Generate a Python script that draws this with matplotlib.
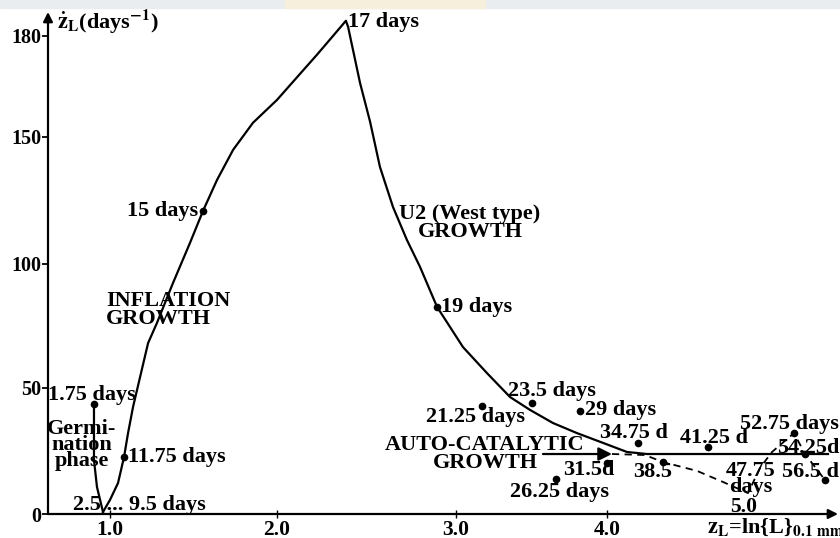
import numpy as np
import matplotlib.pyplot as plt
from matplotlib.patches import Rectangle

# the original figure is hand drawn, its axes are not evenly spaced
x_knots = [1.0, 2.0, 3.0, 4.0, 5.0]
x_knot_px = [110, 277, 456, 607, 744]
y_knots = [0, 50, 100, 150, 180]
y_knot_px = [0, 126, 250, 377, 478]

# germination phase (1.75 days -> 2.5 days)
germ_x = [0.904, 0.904, 0.922, 0.958]
germ_y = [43.7, 21.4, 10.7, 0.8]

# inflation growth up to 17 days, then U2 growth down to the auto-catalytic level
growth_x = [0.958, 1.000, 1.048, 1.084, 1.108, 1.138, 1.180, 1.228, 1.281, 1.377,
            1.479, 1.557, 1.641, 1.737, 1.856, 2.000, 2.128, 2.223, 2.313, 2.385,
            2.397, 2.464, 2.520, 2.575, 2.648, 2.726, 2.799, 2.894, 3.046, 3.205,
            3.358, 3.490, 3.642, 3.801, 3.974, 4.146, 4.292, 5.613]
growth_y = [0.8, 5.6, 12.3, 22.6, 32.1, 42.5, 54.4, 68.1, 76.2, 92.3,
            108.3, 120.9, 133.1, 144.9, 154.2, 161.0, 168.7, 174.4, 180.0, 184.5,
            182.7, 166.0, 154.5, 138.2, 122.4, 109.4, 98.8, 82.7, 66.5, 56.0,
            46.4, 41.3, 36.1, 32.1, 28.2, 24.6, 23.8, 23.8]

# auto-catalytic arrow
auto_x = [3.576, 4.036]
auto_y = [23.8, 23.8]

# dashed path through the late measurements
dash_x = [4.036, 4.277, 4.409, 4.657, 4.847, 5.029, 5.117, 5.204, 5.365, 5.445, 5.591]
dash_y = [23.8, 23.4, 20.6, 17.1, 12.7, 8.3, 18.3, 24.6, 32.1, 23.8, 13.5]

# measured points
dot_names = ['1.75 days', '11.75 days', '15 days', '19 days', '21.25 days', '23.5 days',
             '26.25 days', '29 days', '31.5d', '34.75 d', '38.5', '41.25 d',
             '52.75 days', '54.25d', '56.5 d']
dot_x = [0.904, 1.084, 1.557, 2.894, 3.172, 3.503, 3.662, 3.821, 4.000, 4.226,
         4.409, 4.737, 5.365, 5.445, 5.591]
dot_y = [43.7, 22.6, 120.9, 82.7, 42.9, 44.0, 13.9, 40.9, 20.2, 28.2,
         20.6, 26.6, 32.1, 23.8, 13.5]

# label offsets in pixels (dx, dy, ha)
dot_offsets = [(-46, 9, 'left'), (4, 0, 'left'), (-5, 0, 'right'), (4, 0, 'left'),
               (-56, -11, 'left'), (-24, 12, 'left'), (-46, -13, 'left'), (5, 1, 'left'),
               (-44, -7, 'left'), (-38, 10, 'left'), (-30, -10, 'left'), (-28, 9, 'left'),
               (-54, 9, 'left'), (-28, 6, 'left'), (-43, 8, 'left')]

y_ticks = [0, 50, 100, 150, 180]
x_ticks = [1.0, 2.0, 3.0, 4.0]


def interp_ext(v, a, b):
    v = np.asarray(v, float)
    a = np.asarray(a, float)
    b = np.asarray(b, float)
    lo = b[0] + (v - a[0]) * (b[1] - b[0]) / (a[1] - a[0])
    hi = b[-1] + (v - a[-1]) * (b[-1] - b[-2]) / (a[-1] - a[-2])
    return np.where(v < a[0], lo, np.where(v > a[-1], hi, np.interp(v, a, b)))


plt.rcParams['font.family'] = ['Liberation Serif', 'DejaVu Serif']
plt.rcParams['font.weight'] = 'bold'
plt.rcParams['mathtext.fontset'] = 'stix'

fig = plt.figure(figsize=(8.4, 5.38), dpi=100)
fig.patches.append(Rectangle((0, 1 - 8 / 538), 1, 8 / 538, transform=fig.transFigure,
                             color='#e9edf0', zorder=-5))
fig.patches.append(Rectangle((285 / 840, 1 - 8 / 538), 200 / 840, 8 / 538,
                             transform=fig.transFigure, color='#f6efdc', zorder=-4))

ax = fig.add_axes([48 / 840, 24 / 538, 790 / 840, 502 / 538])
ax.patch.set_alpha(0)
ax.set_xscale('function', functions=(lambda v: interp_ext(v, x_knots, x_knot_px),
                                     lambda p: interp_ext(p, x_knot_px, x_knots)))
ax.set_yscale('function', functions=(lambda v: interp_ext(v, y_knots, y_knot_px),
                                     lambda p: interp_ext(p, y_knot_px, y_knots)))
ax.set_xlim(0.6287, 5.686)
ax.set_ylim(0, 187.1)

for s in ax.spines.values():
    s.set_visible(False)

# axis lines with arrows
ax.annotate('', xy=(0, 1.0), xytext=(0, 0), xycoords='axes fraction',
            arrowprops=dict(arrowstyle='-|>', lw=1.6, color='black', mutation_scale=14,
                            shrinkA=0, shrinkB=0))
ax.annotate('', xy=(1.0, 0), xytext=(0, 0), xycoords='axes fraction',
            arrowprops=dict(arrowstyle='-|>', lw=1.6, color='black', mutation_scale=14,
                            shrinkA=0, shrinkB=0))

ax.set_yticks(y_ticks)
ax.set_yticklabels([str(t) for t in y_ticks], fontsize=14.5, fontweight='bold')
ax.set_xticks(x_ticks)
ax.set_xticklabels(['%.1f' % t for t in x_ticks], fontsize=15.5, fontweight='bold')
ax.tick_params(axis='y', direction='out', length=4, width=1.3, pad=1)
ax.tick_params(axis='x', direction='inout', length=6, width=1.0, pad=1)
ax.text(5.0, 2.6, '5.0', ha='center', va='center', fontsize=15.5, fontweight='bold')

# curves
ax.plot(germ_x, germ_y, color='black', lw=1.6, clip_on=False)
ax.plot(growth_x, growth_y, color='black', lw=1.6, clip_on=False)
ax.plot(dash_x, dash_y, color='black', lw=1.3, ls=(0, (4, 3)), clip_on=False)
ax.annotate('', xy=(auto_x[1], auto_y[1]), xytext=(auto_x[0], auto_y[0]),
            arrowprops=dict(arrowstyle='-|>', lw=1.6, color='black', mutation_scale=20,
                            shrinkA=0, shrinkB=0))
ax.plot(dot_x, dot_y, 'o', color='black', ms=4.5, clip_on=False)

# point labels
for name, x, y, (dx, dy, ha) in zip(dot_names, dot_x, dot_y, dot_offsets):
    ax.annotate(name, (x, y), xytext=(dx, dy), textcoords='offset pixels',
                ha=ha, va='center', fontsize=16, fontweight='bold',
                annotation_clip=False)
ax.annotate('17 days', (growth_x[19], growth_y[19]), xytext=(2, -1),
            textcoords='offset pixels', ha='left', va='center', fontsize=16,
            fontweight='bold')
ax.annotate('2.5 ... 9.5 days', (germ_x[-1], germ_y[-1]), xytext=(-30, 7),
            textcoords='offset pixels', ha='left', va='center', fontsize=16,
            fontweight='bold')
ax.annotate('47.75\ndays', (dash_x[5], dash_y[5]), xytext=(3, 14),
            textcoords='offset pixels', ha='center', va='center', fontsize=16,
            fontweight='bold', linespacing=0.78)

# phase labels
ax.text(0.976, 81.5, 'INFLATION\nGROWTH', ha='left', va='center', fontsize=16,
        fontweight='bold', linespacing=0.9)
ax.text(3.093, 116.1, 'U2 (West type)\nGROWTH', ha='center', va='center', fontsize=16,
        fontweight='bold', linespacing=0.9)
ax.text(3.192, 23.8, 'AUTO-CATALYTIC\nGROWTH', ha='center', va='center', fontsize=16,
        fontweight='bold', linespacing=0.82)
ax.text(0.832, 27.4, 'Germi-\nnation\nphase', ha='center', va='center', fontsize=16,
        fontweight='bold', linespacing=0.72)

# axis titles
fig.text(57 / 840, 1 - 22 / 538, r'$\dot{\mathbf{z}}_{\mathbf{L}}$(days$^{\mathbf{-1}}$)',
         ha='left', va='center', fontsize=16, fontweight='bold')
fig.text(707 / 840, 1 - 527 / 538, r'$\mathbf{z}_{\mathbf{L}}$=ln{L}$_{\mathbf{0.1\ mm}}$',
         ha='left', va='center', fontsize=16, fontweight='bold')

fig.savefig('out.png', dpi=100)
